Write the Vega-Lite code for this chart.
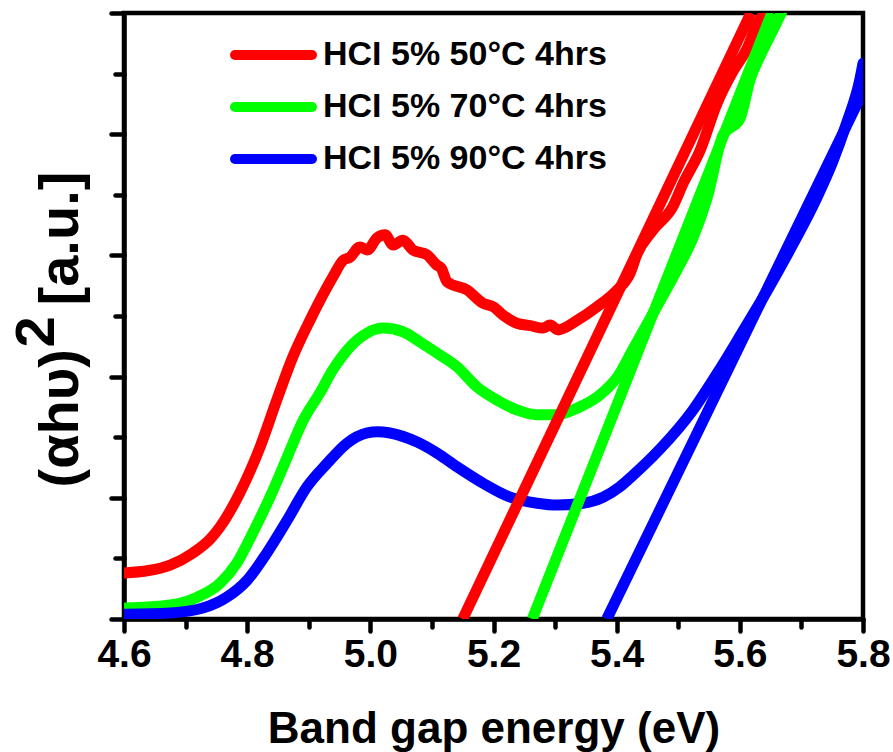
{
  "$schema": "https://vega.github.io/schema/vega-lite/v6.json",
  "width": 739,
  "height": 606,
  "autosize": {"type": "none"},
  "padding": {"left": 124, "top": 13, "right": 30, "bottom": 133},
  "background": "white",
  "config": {
    "font": "Liberation Sans",
    "view": {"stroke": "#000", "strokeWidth": 4.5},
    "axis": {
      "grid": false,
      "domainColor": "#000",
      "domainWidth": 4.5,
      "domainCap": "round",
      "tickColor": "#000",
      "tickWidth": 4.5,
      "tickCap": "round",
      "labelFlush": false,
      "labelOverlap": false,
      "labelBound": false
    }
  },
  "datasets": {
    "curves": [
      {"e": 4.600, "v": 0.76, "s": "HCI 5% 50°C 4hrs"},
      {"e": 4.640, "v": 0.80, "s": "HCI 5% 50°C 4hrs"},
      {"e": 4.675, "v": 0.89, "s": "HCI 5% 50°C 4hrs"},
      {"e": 4.712, "v": 1.09, "s": "HCI 5% 50°C 4hrs"},
      {"e": 4.740, "v": 1.32, "s": "HCI 5% 50°C 4hrs"},
      {"e": 4.756, "v": 1.52, "s": "HCI 5% 50°C 4hrs"},
      {"e": 4.788, "v": 2.08, "s": "HCI 5% 50°C 4hrs"},
      {"e": 4.821, "v": 2.84, "s": "HCI 5% 50°C 4hrs"},
      {"e": 4.848, "v": 3.61, "s": "HCI 5% 50°C 4hrs"},
      {"e": 4.874, "v": 4.32, "s": "HCI 5% 50°C 4hrs"},
      {"e": 4.902, "v": 4.93, "s": "HCI 5% 50°C 4hrs"},
      {"e": 4.930, "v": 5.48, "s": "HCI 5% 50°C 4hrs"},
      {"e": 4.940, "v": 5.66, "s": "HCI 5% 50°C 4hrs"},
      {"e": 4.956, "v": 5.92, "s": "HCI 5% 50°C 4hrs"},
      {"e": 4.967, "v": 5.97, "s": "HCI 5% 50°C 4hrs"},
      {"e": 4.983, "v": 6.14, "s": "HCI 5% 50°C 4hrs"},
      {"e": 4.995, "v": 6.09, "s": "HCI 5% 50°C 4hrs"},
      {"e": 5.011, "v": 6.29, "s": "HCI 5% 50°C 4hrs"},
      {"e": 5.024, "v": 6.34, "s": "HCI 5% 50°C 4hrs"},
      {"e": 5.037, "v": 6.17, "s": "HCI 5% 50°C 4hrs"},
      {"e": 5.053, "v": 6.25, "s": "HCI 5% 50°C 4hrs"},
      {"e": 5.069, "v": 6.09, "s": "HCI 5% 50°C 4hrs"},
      {"e": 5.092, "v": 6.01, "s": "HCI 5% 50°C 4hrs"},
      {"e": 5.108, "v": 5.84, "s": "HCI 5% 50°C 4hrs"},
      {"e": 5.115, "v": 5.79, "s": "HCI 5% 50°C 4hrs"},
      {"e": 5.125, "v": 5.56, "s": "HCI 5% 50°C 4hrs"},
      {"e": 5.157, "v": 5.43, "s": "HCI 5% 50°C 4hrs"},
      {"e": 5.183, "v": 5.21, "s": "HCI 5% 50°C 4hrs"},
      {"e": 5.200, "v": 5.15, "s": "HCI 5% 50°C 4hrs"},
      {"e": 5.215, "v": 5.02, "s": "HCI 5% 50°C 4hrs"},
      {"e": 5.238, "v": 4.88, "s": "HCI 5% 50°C 4hrs"},
      {"e": 5.260, "v": 4.84, "s": "HCI 5% 50°C 4hrs"},
      {"e": 5.280, "v": 4.80, "s": "HCI 5% 50°C 4hrs"},
      {"e": 5.292, "v": 4.85, "s": "HCI 5% 50°C 4hrs"},
      {"e": 5.305, "v": 4.77, "s": "HCI 5% 50°C 4hrs"},
      {"e": 5.336, "v": 4.93, "s": "HCI 5% 50°C 4hrs"},
      {"e": 5.368, "v": 5.15, "s": "HCI 5% 50°C 4hrs"},
      {"e": 5.401, "v": 5.43, "s": "HCI 5% 50°C 4hrs"},
      {"e": 5.422, "v": 5.71, "s": "HCI 5% 50°C 4hrs"},
      {"e": 5.433, "v": 6.02, "s": "HCI 5% 50°C 4hrs"},
      {"e": 5.459, "v": 6.42, "s": "HCI 5% 50°C 4hrs"},
      {"e": 5.492, "v": 6.82, "s": "HCI 5% 50°C 4hrs"},
      {"e": 5.508, "v": 7.19, "s": "HCI 5% 50°C 4hrs"},
      {"e": 5.535, "v": 7.72, "s": "HCI 5% 50°C 4hrs"},
      {"e": 5.563, "v": 8.51, "s": "HCI 5% 50°C 4hrs"},
      {"e": 5.589, "v": 9.04, "s": "HCI 5% 50°C 4hrs"},
      {"e": 5.612, "v": 9.42, "s": "HCI 5% 50°C 4hrs"},
      {"e": 5.628, "v": 9.82, "s": "HCI 5% 50°C 4hrs"},
      {"e": 5.646, "v": 10.05, "s": "HCI 5% 50°C 4hrs"},

      {"e": 4.602, "v": 0.18, "s": "HCI 5% 70°C 4hrs"},
      {"e": 4.675, "v": 0.23, "s": "HCI 5% 70°C 4hrs"},
      {"e": 4.719, "v": 0.36, "s": "HCI 5% 70°C 4hrs"},
      {"e": 4.756, "v": 0.59, "s": "HCI 5% 70°C 4hrs"},
      {"e": 4.783, "v": 0.92, "s": "HCI 5% 70°C 4hrs"},
      {"e": 4.809, "v": 1.42, "s": "HCI 5% 70°C 4hrs"},
      {"e": 4.837, "v": 2.01, "s": "HCI 5% 70°C 4hrs"},
      {"e": 4.865, "v": 2.67, "s": "HCI 5% 70°C 4hrs"},
      {"e": 4.891, "v": 3.28, "s": "HCI 5% 70°C 4hrs"},
      {"e": 4.918, "v": 3.73, "s": "HCI 5% 70°C 4hrs"},
      {"e": 4.939, "v": 4.11, "s": "HCI 5% 70°C 4hrs"},
      {"e": 4.967, "v": 4.49, "s": "HCI 5% 70°C 4hrs"},
      {"e": 4.995, "v": 4.72, "s": "HCI 5% 70°C 4hrs"},
      {"e": 5.021, "v": 4.80, "s": "HCI 5% 70°C 4hrs"},
      {"e": 5.053, "v": 4.74, "s": "HCI 5% 70°C 4hrs"},
      {"e": 5.081, "v": 4.57, "s": "HCI 5% 70°C 4hrs"},
      {"e": 5.108, "v": 4.39, "s": "HCI 5% 70°C 4hrs"},
      {"e": 5.141, "v": 4.16, "s": "HCI 5% 70°C 4hrs"},
      {"e": 5.173, "v": 3.83, "s": "HCI 5% 70°C 4hrs"},
      {"e": 5.206, "v": 3.61, "s": "HCI 5% 70°C 4hrs"},
      {"e": 5.238, "v": 3.45, "s": "HCI 5% 70°C 4hrs"},
      {"e": 5.271, "v": 3.37, "s": "HCI 5% 70°C 4hrs"},
      {"e": 5.303, "v": 3.37, "s": "HCI 5% 70°C 4hrs"},
      {"e": 5.336, "v": 3.48, "s": "HCI 5% 70°C 4hrs"},
      {"e": 5.368, "v": 3.66, "s": "HCI 5% 70°C 4hrs"},
      {"e": 5.401, "v": 3.99, "s": "HCI 5% 70°C 4hrs"},
      {"e": 5.427, "v": 4.46, "s": "HCI 5% 70°C 4hrs"},
      {"e": 5.466, "v": 5.17, "s": "HCI 5% 70°C 4hrs"},
      {"e": 5.498, "v": 5.76, "s": "HCI 5% 70°C 4hrs"},
      {"e": 5.524, "v": 6.29, "s": "HCI 5% 70°C 4hrs"},
      {"e": 5.547, "v": 6.95, "s": "HCI 5% 70°C 4hrs"},
      {"e": 5.573, "v": 7.99, "s": "HCI 5% 70°C 4hrs"},
      {"e": 5.600, "v": 8.25, "s": "HCI 5% 70°C 4hrs"},
      {"e": 5.617, "v": 8.91, "s": "HCI 5% 70°C 4hrs"},
      {"e": 5.633, "v": 9.29, "s": "HCI 5% 70°C 4hrs"},
      {"e": 5.649, "v": 9.62, "s": "HCI 5% 70°C 4hrs"},
      {"e": 5.665, "v": 9.95, "s": "HCI 5% 70°C 4hrs"},
      {"e": 5.673, "v": 10.13, "s": "HCI 5% 70°C 4hrs"},

      {"e": 4.602, "v": 0.08, "s": "HCI 5% 90°C 4hrs"},
      {"e": 4.675, "v": 0.10, "s": "HCI 5% 90°C 4hrs"},
      {"e": 4.728, "v": 0.18, "s": "HCI 5% 90°C 4hrs"},
      {"e": 4.767, "v": 0.36, "s": "HCI 5% 90°C 4hrs"},
      {"e": 4.800, "v": 0.64, "s": "HCI 5% 90°C 4hrs"},
      {"e": 4.832, "v": 1.09, "s": "HCI 5% 90°C 4hrs"},
      {"e": 4.865, "v": 1.63, "s": "HCI 5% 90°C 4hrs"},
      {"e": 4.897, "v": 2.18, "s": "HCI 5% 90°C 4hrs"},
      {"e": 4.930, "v": 2.57, "s": "HCI 5% 90°C 4hrs"},
      {"e": 4.962, "v": 2.90, "s": "HCI 5% 90°C 4hrs"},
      {"e": 4.995, "v": 3.07, "s": "HCI 5% 90°C 4hrs"},
      {"e": 5.012, "v": 3.09, "s": "HCI 5% 90°C 4hrs"},
      {"e": 5.032, "v": 3.07, "s": "HCI 5% 90°C 4hrs"},
      {"e": 5.076, "v": 2.92, "s": "HCI 5% 90°C 4hrs"},
      {"e": 5.108, "v": 2.74, "s": "HCI 5% 90°C 4hrs"},
      {"e": 5.141, "v": 2.51, "s": "HCI 5% 90°C 4hrs"},
      {"e": 5.183, "v": 2.24, "s": "HCI 5% 90°C 4hrs"},
      {"e": 5.227, "v": 2.01, "s": "HCI 5% 90°C 4hrs"},
      {"e": 5.271, "v": 1.91, "s": "HCI 5% 90°C 4hrs"},
      {"e": 5.303, "v": 1.88, "s": "HCI 5% 90°C 4hrs"},
      {"e": 5.345, "v": 1.91, "s": "HCI 5% 90°C 4hrs"},
      {"e": 5.378, "v": 2.01, "s": "HCI 5% 90°C 4hrs"},
      {"e": 5.405, "v": 2.18, "s": "HCI 5% 90°C 4hrs"},
      {"e": 5.422, "v": 2.33, "s": "HCI 5% 90°C 4hrs"},
      {"e": 5.470, "v": 2.80, "s": "HCI 5% 90°C 4hrs"},
      {"e": 5.524, "v": 3.45, "s": "HCI 5% 90°C 4hrs"},
      {"e": 5.563, "v": 4.05, "s": "HCI 5% 90°C 4hrs"},
      {"e": 5.605, "v": 4.75, "s": "HCI 5% 90°C 4hrs"},
      {"e": 5.649, "v": 5.50, "s": "HCI 5% 90°C 4hrs"},
      {"e": 5.686, "v": 6.18, "s": "HCI 5% 90°C 4hrs"},
      {"e": 5.725, "v": 6.95, "s": "HCI 5% 90°C 4hrs"},
      {"e": 5.751, "v": 7.55, "s": "HCI 5% 90°C 4hrs"},
      {"e": 5.774, "v": 8.20, "s": "HCI 5% 90°C 4hrs"},
      {"e": 5.795, "v": 8.91, "s": "HCI 5% 90°C 4hrs"},
      {"e": 5.800, "v": 9.17, "s": "HCI 5% 90°C 4hrs"}
    ],
    "fits": [
      {"e": 5.150, "v": 0, "s": "HCI 5% 50°C 4hrs"},
      {"e": 5.618, "v": 10, "s": "HCI 5% 50°C 4hrs"},
      {"e": 5.263, "v": 0, "s": "HCI 5% 70°C 4hrs"},
      {"e": 5.652, "v": 10, "s": "HCI 5% 70°C 4hrs"},
      {"e": 5.384, "v": 0, "s": "HCI 5% 90°C 4hrs"},
      {"e": 5.800, "v": 8.7, "s": "HCI 5% 90°C 4hrs"}
    ]
  },
  "layer": [
    {
      "data": {"name": "curves"},
      "mark": {"type": "line", "strokeWidth": 11, "strokeCap": "round", "strokeJoin": "round", "interpolate": "monotone", "clip": true},
      "encoding": {
        "x": {
          "field": "e", "type": "quantitative",
          "scale": {"domain": [4.6, 5.8], "nice": false, "zero": false},
          "axis": {
            "orient": "bottom",
            "values": [4.6, 4.8, 5.0, 5.2, 5.4, 5.6, 5.8],
            "format": ".1f",
            "tickSize": 12,
            "labelPadding": 4,
            "labelFontSize": 39,
            "labelFontWeight": "bold",
            "labelColor": "#000",
            "title": "Band gap energy (eV)",
            "titleFontSize": 44,
            "titleFontWeight": "bold",
            "titleColor": "#000",
            "titleBaseline": "alphabetic",
            "titleY": 123
          }
        },
        "y": {
          "field": "v", "type": "quantitative",
          "scale": {"domain": [0, 10], "nice": false},
          "axis": {
            "orient": "left",
            "values": [0, 2, 4, 6, 8, 10],
            "tickSize": 13,
            "labels": false,
            "title": "(αhυ)\u2002 [a.u.]",
            "titleFontSize": 56,
            "titleFontWeight": "bold",
            "titleColor": "#000",
            "titleAngle": -90,
            "titleAlign": "left",
            "titleBaseline": "alphabetic",
            "titleX": -47,
            "titleY": 474
          }
        },
        "color": {
          "field": "s", "type": "nominal",
          "scale": {
            "domain": ["HCI 5% 50°C 4hrs", "HCI 5% 70°C 4hrs", "HCI 5% 90°C 4hrs"],
            "range": ["#ff0000", "#00ff00", "#0000ff"]
          },
          "legend": {
            "orient": "none",
            "legendX": 106,
            "legendY": 25,
            "title": null,
            "symbolType": "stroke",
            "symbolSize": 5929,
            "symbolStrokeWidth": 10,
            "labelFontSize": 34,
            "labelFontWeight": "bold",
            "labelColor": "#000",
            "labelOffset": 6,
            "clipHeight": 34,
            "rowPadding": 18,
            "padding": 0,
            "labelLimit": 400,
            "encode": {"symbols": {"update": {"strokeCap": {"value": "round"}}}}
          }
        }
      }
    },
    {
      "data": {"name": "fits"},
      "mark": {"type": "line", "strokeWidth": 11, "strokeCap": "butt", "clip": true},
      "encoding": {
        "x": {
          "field": "e", "type": "quantitative",
          "axis": {
            "orient": "bottom",
            "values": [4.7, 4.9, 5.1, 5.3, 5.5, 5.7],
            "tickSize": 8,
            "labels": false,
            "domain": false,
            "title": null
          }
        },
        "y": {
          "field": "v", "type": "quantitative",
          "axis": {
            "orient": "left",
            "values": [1, 3, 5, 7, 9],
            "tickSize": 9,
            "labels": false,
            "domain": false,
            "title": "2",
            "titleFontSize": 56,
            "titleFontWeight": "bold",
            "titleColor": "#000",
            "titleAngle": -90,
            "titleAlign": "left",
            "titleBaseline": "alphabetic",
            "titleX": -71,
            "titleY": 334
          }
        },
        "color": {"field": "s", "type": "nominal", "legend": null}
      }
    }
  ],
  "resolve": {"axis": {"x": "independent", "y": "independent"}}
}
